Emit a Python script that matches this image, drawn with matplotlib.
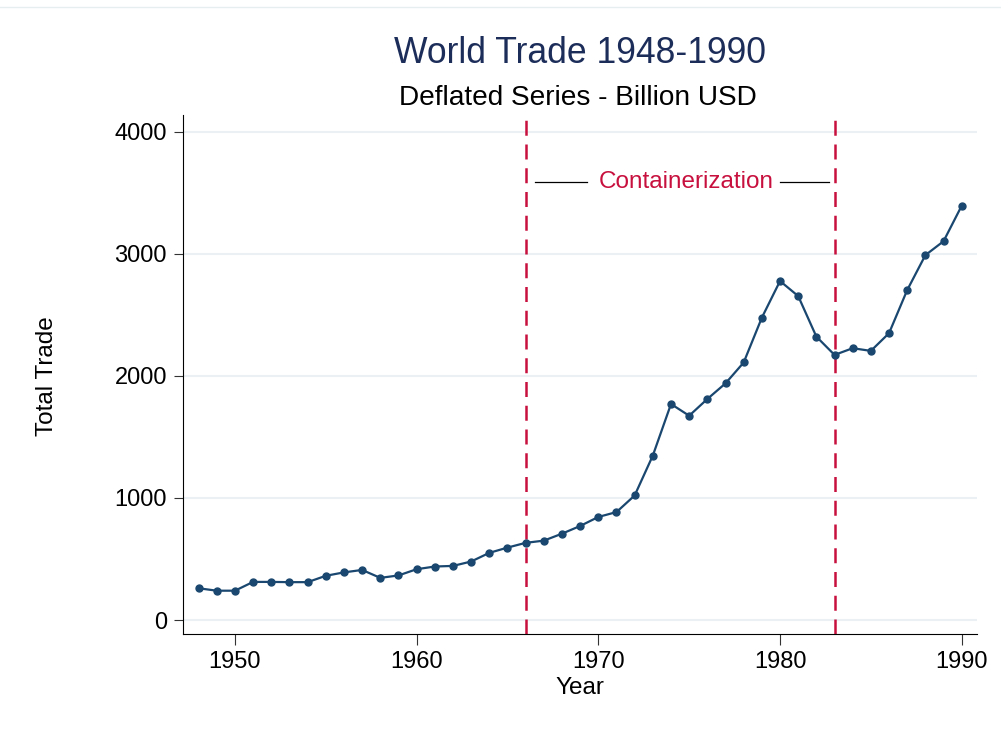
import numpy as np
import matplotlib.pyplot as plt
from matplotlib.lines import Line2D

plt.rcParams['font.family'] = ['Liberation Sans', 'DejaVu Sans']

years = list(range(1948, 1991))
trade = [260, 240, 240, 312, 312, 310, 310, 362, 390, 410, 345, 365, 416, 438, 443,
         479, 550, 593, 632, 650, 707, 770, 844, 884, 1020, 1347, 1769, 1673, 1810,
         1938, 2109, 2476, 2776, 2653, 2321, 2171, 2226, 2204, 2349, 2702, 2988, 3102, 3393]
events = [1966, 1983]
yticks = [0, 1000, 2000, 3000, 4000]
xticks = [1950, 1960, 1970, 1980, 1990]

navy = '#1a476f'
red = '#c8103e'

fig = plt.figure(figsize=(10.01, 7.31), dpi=100)
ax = fig.add_axes([0.1828, 0.1323, 0.7932, 0.7104])

for y in yticks:
    ax.axhline(y, color='#eaf0f3', lw=1.5, zorder=0)

ax.plot(years, trade, color=navy, lw=1.6, marker='o', ms=5, zorder=3)

for e in events:
    ax.axvline(e, color=red, lw=1.8, dashes=(6, 3.5), zorder=2)

ax.text(1974.85, 3584, 'Containerization', color=red, fontsize=17.5,
        ha='center', va='center')
ax.plot([1966.5, 1969.4], [3584, 3584], color='black', lw=0.9)
ax.plot([1980.0, 1982.7], [3584, 3584], color='black', lw=0.9)

ax.set_xlim(1947.14, 1990.84)
ax.set_ylim(-117, 4136)
ax.set_xticks(xticks)
ax.set_yticks(yticks)
ax.tick_params(labelsize=17, width=0.8, color='#333333', labelcolor='black')
ax.tick_params(axis='x', length=8, pad=4)
ax.tick_params(axis='y', length=6.5, pad=5)
ax.spines['top'].set_visible(False)
ax.spines['right'].set_visible(False)

ax.set_xlabel('Year', fontsize=17.5)
ax.xaxis.set_label_coords(0.5, -0.082)
ax.set_ylabel('Total Trade', fontsize=17.5)
ax.yaxis.label.set_va('center')
ax.yaxis.set_label_coords(-0.171, 0.497)

fig.text(0.579, 0.914, 'World Trade 1948-1990', fontsize=25.6, color='#1c2d5a',
         ha='center', va='baseline')
fig.text(0.5775, 0.857, 'Deflated Series - Billion USD', fontsize=20.2, color='black',
         ha='center', va='baseline')

fig.add_artist(Line2D([0, 1], [0.99, 0.99], color='#e6eef0', lw=1))

fig.savefig('out.png', dpi=100)
